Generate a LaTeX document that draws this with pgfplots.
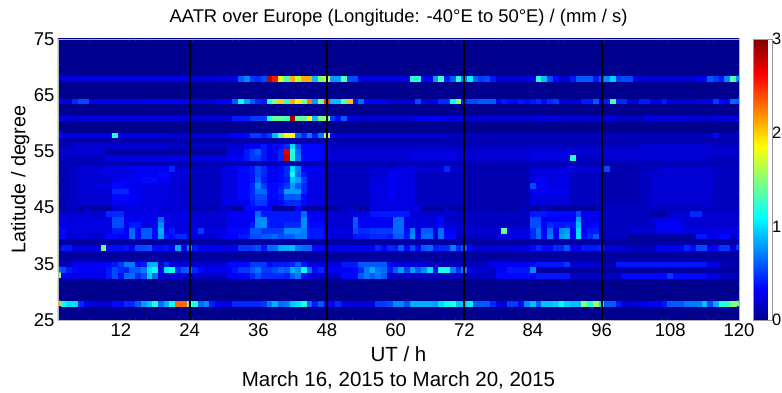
\documentclass[border=0pt]{standalone}
\usepackage{pgfplots}
\pgfplotsset{compat=1.18}
\usepackage{fontspec}
\setmainfont{Liberation Sans}

% cells are collected row by row, n/v = n hours in a row with value v
% v is in steps of 0.05 mm/s (60 = 3 mm/s)
\newcount\col
\def\cellsdata{}
\newcommand\row[2]{%
  \global\col=0
  \foreach \n/\v in {#2}{%
    \foreach \k in {1,...,\n}{%
      \global\advance\col by 1
      \xdef\cellsdata{\cellsdata (\the\col,#1) [\v]}%
    }%
  }%
}
\def\drawcells#1{\addplot[matrix plot*, mesh/cols=120, point meta=explicit] coordinates {#1};}

\row{25}{120/0}
\row{26}{120/0}
\row{27}{120/0}
\row{28}{1/41,1/22,2/20,1/9,1/6,4/4,2/7,2/9,1/12,1/16,1/18,1/24,1/13,1/17,1/23,2/46,1/28,1/24,1/13,1/15,1/8,1/6,2/5,5/9,1/10,1/14,1/17,1/13,1/14,1/19,1/20,1/24,1/13,1/8,1/12,1/7,1/6,1/9,4/5,2/5,2/10,1/11,2/15,1/11,4/17,1/16,1/20,1/22,1/24,2/18,1/21,3/12,1/9,1/6,1/4,2/10,1/7,1/15,1/18,1/12,2/18,1/19,1/22,1/19,2/18,1/30,1/23,1/32,1/20,2/12,1/8,3/4,1/5,3/6,1/8,3/12,3/14,1/18,1/11,1/17,2/24,1/30,1/29}
\row{29}{120/0}
\row{30}{120/0}
\row{31}{120/0}
\row{32}{120/0}
\row{33}{1/31,2/6,6/5,1/8,1/11,1/7,2/13,1/9,1/11,1/19,1/13,7/4,5/3,4/6,1/9,1/11,1/9,3/9,1/8,1/12,1/14,1/7,3/4,3/3,3/7,1/12,1/14,1/12,1/14,1/12,19/3,6/7,1/6,6/8,5/3,4/3,8/7,1/10,6/7,2/5,4/3}
\row{34}{1/13,1/11,1/8,1/7,5/6,1/8,1/11,1/9,1/8,2/12,1/14,1/20,1/22,1/6,1/21,1/23,1/9,1/12,1/13,1/9,1/7,1/5,4/6,1/8,2/10,1/12,1/14,2/10,1/11,1/13,1/12,1/17,1/15,1/22,1/13,1/7,1/9,5/6,1/7,1/9,1/14,1/17,1/14,1/13,1/8,1/12,1/16,1/10,1/16,1/12,1/15,1/20,1/7,2/23,1/14,1/9,1/14,1/5,3/4,1/3,2/6,4/8,1/15,36/1}
\row{35}{3/3,6/6,1/7,1/8,1/10,2/14,1/7,1/8,2/17,1/4,1/9,4/5,6/4,4/7,3/10,1/7,3/8,1/9,1/12,1/8,3/5,3/5,3/8,5/12,1/7,6/5,11/3,7/6,1/7,5/8,1/10,5/4,3/2,16/8,2/5,4/2}
\row{36}{120/1}
\row{37}{120/1}
\row{38}{1/3,2/8,5/5,1/29,3/7,1/8,1/6,2/11,1/12,2/7,1/8,1/6,1/17,1/6,1/14,1/8,4/6,1/5,2/6,3/10,1/11,1/8,2/13,2/17,1/18,1/14,2/13,2/7,3/6,6/6,1/9,1/6,1/9,1/8,1/12,1/7,1/11,1/7,1/12,1/13,1/8,2/9,1/14,1/9,1/12,1/6,6/4,4/5,1/7,1/9,2/7,2/9,1/12,2/6,3/8,1/9,4/4,5/3,5/6,1/9,1/7,2/11,1/6,1/7,2/10,1/5,1/10}
\row{39}{120/1}
\row{40}{2/7,2/4,1/5,4/4,2/7,2/6,1/13,1/7,2/12,1/7,1/16,1/8,1/7,2/9,1/6,1/5,4/4,3/6,2/8,2/11,2/12,1/13,1/11,2/12,1/14,1/14,3/8,1/6,4/4,3/8,3/9,1/8,2/12,1/8,1/15,1/6,2/13,1/5,1/13,2/7,7/3,6/5,1/9,1/13,1/7,1/14,1/6,1/16,1/17,1/6,1/20,1/7,1/9,1/12,5/3,12/1,2/8,2/5,2/7,1/3,1/6}
\row{41}{2/7,8/5,2/8,1/6,1/13,1/7,2/12,1/7,1/17,1/6,1/8,4/5,1/10,4/5,4/7,2/12,4/10,3/15,1/14,3/8,5/5,1/11,2/9,4/10,2/13,1/7,1/14,1/5,2/12,1/5,1/13,2/6,8/4,1/28,4/5,1/9,1/13,1/6,1/13,1/6,1/15,1/16,1/6,1/20,1/6,2/8,5/3,5/4,5/6,10/5}
\row{42}{10/5,2/11,1/6,2/8,3/5,1/15,6/5,5/4,4/6,1/8,2/15,3/8,3/9,1/15,3/7,5/4,1/12,2/6,4/6,2/13,6/5,1/7,4/4,11/3,2/11,1/6,1/9,4/8,1/18,2/6,1/7,10/3,5/6,10/4}
\row{43}{10/5,2/11,6/6,1/13,6/5,5/4,5/6,2/15,6/8,1/15,3/6,5/4,1/12,2/6,4/6,2/13,6/5,1/7,15/3,2/11,6/6,1/16,3/5,9/3,6/5,10/4}
\row{44}{9/4,3/9,12/5,6/4,5/6,1/13,7/8,1/13,3/6,5/4,3/5,7/8,8/4,13/3,3/8,5/7,1/11,3/6,9/3,3/1,4/4,2/9,7/4}
\row{45}{2/1,2/3,1/1,1/3,4/1,2/4,6/5,6/4,1/1,2/3,1/1,3/3,2/1,5/7,4/1,1/7,7/1,3/3,2/1,9/5,4/1,1/3,2/1,8/2,2/1,2/3,2/1,1/3,9/1,25/3}
\row{46}{2/2,2/3,6/4,5/6,5/5,4/4,5/3,3/5,2/6,1/8,2/10,2/6,1/7,3/9,1/7,3/5,8/3,3/5,2/5,3/5,9/3,11/2,2/5,5/4,5/3,7/2,2/3,11/4,5/3}
\row{47}{2/2,2/3,6/4,3/7,2/6,5/5,4/4,5/3,3/5,2/7,1/9,2/11,2/7,1/8,3/12,1/7,3/5,8/3,3/5,2/6,3/5,9/3,11/2,7/5,5/3,7/2,2/3,11/4,5/3}
\row{48}{2/2,2/3,6/4,3/9,2/6,5/5,4/4,5/3,3/5,2/7,1/9,2/13,2/7,1/9,3/16,1/9,3/5,8/3,3/5,2/6,3/5,9/3,11/2,7/6,5/3,7/2,2/3,11/4,5/3}
\row{49}{2/2,2/3,3/4,3/5,2/7,2/6,6/5,4/4,5/3,3/5,2/7,1/9,1/15,1/10,2/7,1/8,1/10,1/16,1/12,1/9,3/5,8/3,3/5,2/6,3/5,9/3,11/2,1/11,2/6,4/5,5/3,7/2,2/3,11/4,5/3}
\row{50}{2/2,2/3,6/4,1/5,4/6,3/7,2/6,4/4,5/3,3/5,2/7,1/8,1/12,1/8,2/6,1/7,1/8,1/18,1/16,1/10,3/5,8/3,3/5,2/6,3/5,9/3,11/2,1/5,2/6,4/5,5/3,7/2,2/3,11/4,5/3}
\row{51}{2/2,2/3,4/4,6/5,4/6,2/7,4/5,5/3,3/5,2/7,1/8,1/11,1/9,2/6,1/7,1/9,1/22,1/13,1/8,3/5,8/3,3/4,2/6,3/5,9/3,11/2,7/5,5/3,7/2,2/3,11/4,5/3}
\row{52}{2/2,2/3,4/4,5/5,7/6,1/9,3/4,5/3,3/5,2/7,1/8,1/11,1/9,2/6,1/7,1/9,1/20,1/14,1/6,3/6,8/3,4/4,4/5,4/4,1/4,1/9,2/4,12/2,6/4,2/5,5/4,1/11,5/2,4/3,9/4,5/3}
\row{53}{120/2}
\row{54}{9/3,21/5,3/6,1/8,2/10,1/8,2/6,1/9,1/56,1/24,1/14,4/7,1/5,14/4,8/5,13/4,7/5,1/24,5/3,18/4,6/3}
\row{55}{1/3,8/4,21/1,3/5,1/8,1/10,1/12,1/8,2/6,1/9,1/54,1/24,1/13,4/7,1/5,14/4,8/5,13/4,7/5,6/4,24/4}
\row{56}{2/2,2/3,16/4,4/3,6/3,3/4,3/6,1/8,1/6,2/7,1/9,1/20,1/11,4/7,1/4,35/3,19/3,13/4,5/3}
\row{57}{120/2}
\row{58}{1/7,9/5,1/24,8/5,5/4,6/4,3/6,1/7,2/10,1/8,1/10,1/18,1/28,2/37,1/13,1/9,1/14,1/8,1/14,1/33,1/7,19/4,47/3,1/7,4/3}
\row{59}{120/0}
\row{60}{120/0}
\row{61}{3/5,2/4,19/5,7/4,3/8,2/10,1/10,1/23,2/28,1/26,1/58,2/28,1/37,1/18,1/29,1/30,1/10,1/7,1/12,2/5,5/4,5/4,5/6,2/5,1/6,12/4,1/4,4/5,8/4,2/5,5/3,7/5,5/4,5/5}
\row{62}{120/0}
\row{63}{120/0}
\row{64}{2/5,1/4,1/9,2/11,3/5,6/5,9/6,4/4,3/6,1/12,1/22,1/16,1/12,1/9,1/8,1/24,1/30,1/40,1/25,1/42,1/38,1/30,1/45,1/16,1/29,1/50,2/18,1/28,1/41,1/8,1/13,4/6,5/4,1/11,3/5,2/9,1/22,1/30,1/9,2/11,3/12,1/6,1/8,1/7,1/6,1/8,1/7,1/8,1/9,1/7,1/9,1/10,4/4,2/8,1/12,1/5,1/8,1/26,2/9,2/4,2/8,2/5,1/8,5/4,3/5,1/10,1/7,1/6,1/13,1/12}
\row{65}{120/0}
\row{66}{120/0}
\row{67}{120/0}
\row{68}{2/4,22/5,4/4,4/5,1/12,1/15,1/10,1/9,1/11,1/56,1/51,1/36,1/26,1/42,1/34,2/42,1/18,1/30,1/33,2/16,1/27,2/11,9/5,2/24,2/6,1/16,1/26,1/8,1/12,1/24,1/14,1/21,1/12,1/10,1/11,1/8,5/4,2/5,1/24,1/18,1/11,1/7,2/4,1/8,3/12,1/8,1/12,1/15,1/19,1/10,2/11,2/5,9/4,2/6,1/12,1/10,1/8,1/15,1/27,1/15}
\row{69}{120/0}
\row{70}{120/0}
\row{71}{120/0}
\row{72}{120/0}
\row{73}{120/0}
\row{74}{120/0}
\row{75}{120/0}

\begin{document}
\begin{tikzpicture}
\path[use as bounding box] (-58pt,-73pt) rectangle (724pt,320pt);
\begin{axis}[
    scale only axis,
    width=681pt,
    height=281pt,
    xmin=1, xmax=120,
    ymin=25, ymax=75,
    xtick={12,24,36,48,60,72,84,96,108,120},
    ytick={25,35,45,55,65,75},
    major tick length=0pt,
    axis line style={color=black!30, line width=0.3pt},
    axis on top,
    enlargelimits=false,
    tick label style={font=\fontsize{18.5}{20}\selectfont, /pgf/number format/assume math mode=true},
    title={AATR over Europe (Longitude: -40°E to 50°E) / (mm / s)},
    title style={font=\fontsize{18.4}{22}\selectfont, at={(0.5,1)}, anchor=south, yshift=3pt},
    xlabel={UT / h\\March 16, 2015 to March 20, 2015},
    xlabel style={font=\fontsize{20.5}{25}\selectfont, align=center, at={(0.5,0)}, anchor=north, yshift=-23pt},
    ylabel={Latitude / degree},
    ylabel style={font=\fontsize{19.7}{22}\selectfont, at={(0,0.5)}, anchor=south, yshift=25pt},
    colormap={matlabjet}{rgb255(0pt)=(0,0,143) rgb255(7pt)=(0,0,255) rgb255(23pt)=(0,255,255) rgb255(39pt)=(255,255,0) rgb255(55pt)=(255,0,0) rgb255(63pt)=(128,0,0)},
    point meta min=0, point meta max=60,
    colorbar,
    colorbar style={
        at={(parent axis.north east)}, anchor=north west, xshift=6pt,
        width=19pt,
        ytick={0,20,40,60}, yticklabels={0,1,2,3},
        yticklabel style={font=\fontsize{16.5}{20}\selectfont, xshift=-4pt},
        axis line style={color=black!40},
        major tick length=0pt,
    },
]
\expandafter\drawcells\expandafter{\cellsdata}
\addplot[black, line width=2.2pt] coordinates {(24,25) (24,75)};
\addplot[black, line width=2.2pt] coordinates {(48,25) (48,75)};
\addplot[black, line width=2.2pt] coordinates {(72,25) (72,75)};
\addplot[black, line width=2.2pt] coordinates {(96,25) (96,75)};
\end{axis}
\end{tikzpicture}
\end{document}
